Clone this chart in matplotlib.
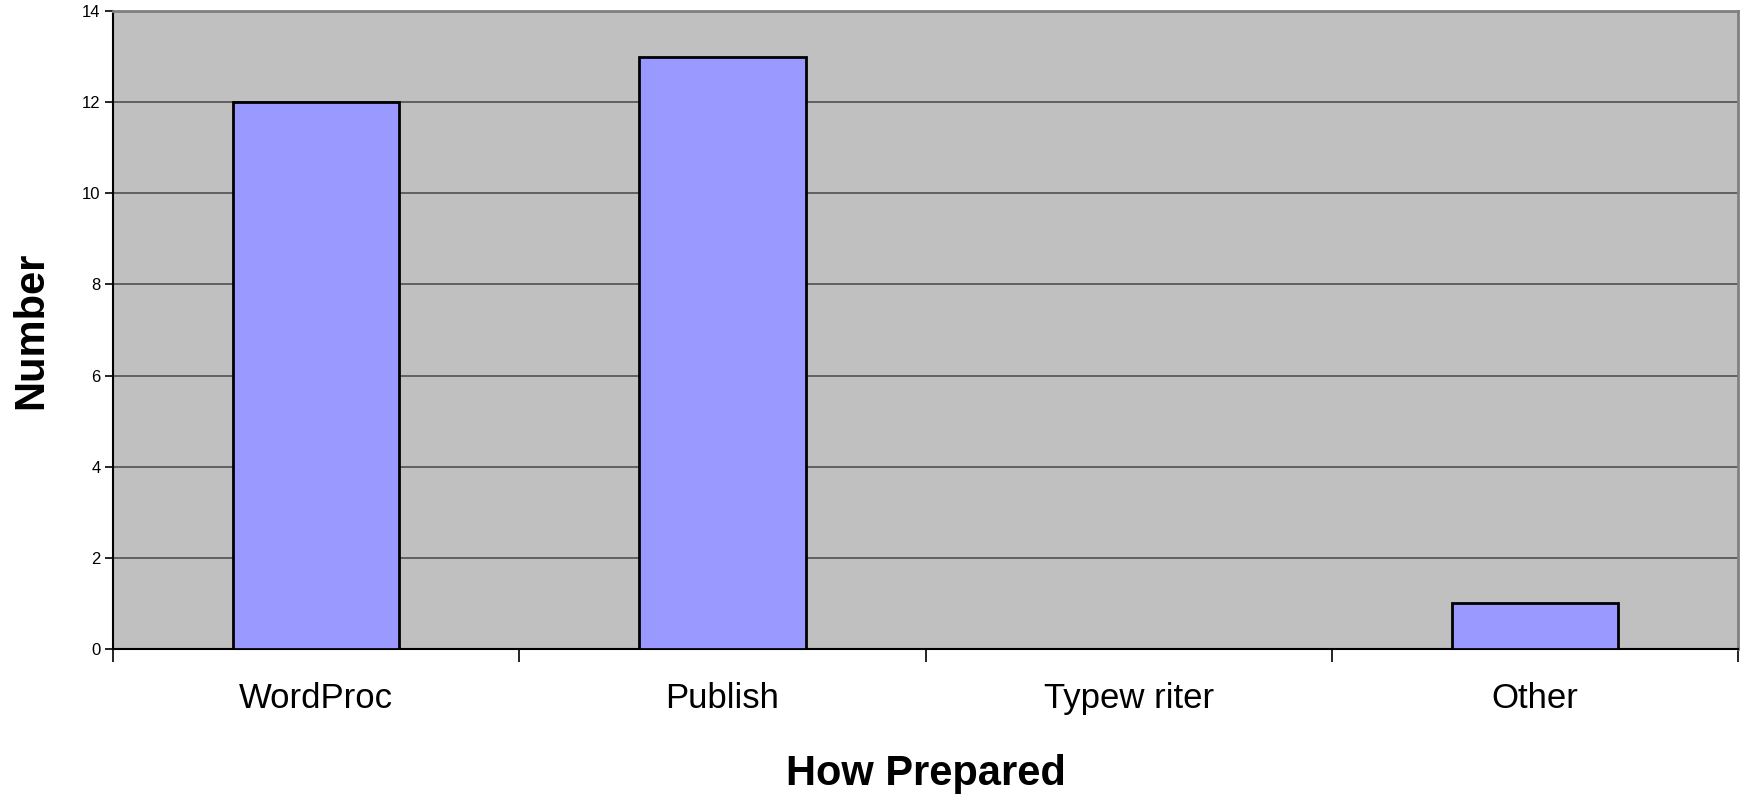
import numpy as np
import matplotlib
matplotlib.use('Agg')
import matplotlib.pyplot as plt

plt.rcParams['font.family'] = ['Liberation Sans', 'DejaVu Sans']

# data
categories = ['WordProc', 'Publish', 'Typew riter', 'Other']
counts = [12, 13, 0, 1]
y_ticks = [0, 2, 4, 6, 8, 10, 12, 14]

fig = plt.figure(figsize=(17.41, 7.99), dpi=100)
ax = fig.add_axes([0.0649, 0.1877, 0.9334, 0.7985])

x = np.arange(len(categories))
ax.set_facecolor('#C0C0C0')
ax.bar(x, counts, width=0.41, color='#9999FF', edgecolor='black', linewidth=2.0, zorder=3)

ax.set_xlim(-0.5, len(categories) - 0.5)
ax.set_ylim(0, 14)
ax.set_yticks(y_ticks)
ax.yaxis.grid(True, color='#505050', linewidth=1.2, zorder=1)
ax.set_axisbelow(True)

# labels centred under categories, ticks at category boundaries
ax.set_xticks(x)
ax.set_xticklabels(categories, fontsize=25)
ax.tick_params(axis='x', which='major', length=0, pad=24)
ax.set_xticks(np.arange(-0.5, len(categories)), minor=True)
ax.tick_params(axis='x', which='minor', length=9, width=1.2, color='black', direction='out')
ax.tick_params(axis='y', length=6, width=1.2, labelsize=12, pad=3)

for side in ['top', 'right']:
    ax.spines[side].set_color('#808080')
    ax.spines[side].set_linewidth(2)
ax.spines['left'].set_color('black')
ax.spines['left'].set_linewidth(1.5)
ax.spines['bottom'].set_color('black')
ax.spines['bottom'].set_linewidth(1.5)

ax.set_xlabel('How Prepared', fontsize=30, fontweight='bold', labelpad=28)
ax.set_ylabel('Number', fontsize=30, fontweight='bold', labelpad=22)

fig.savefig('out.png', dpi=100, facecolor='white')
